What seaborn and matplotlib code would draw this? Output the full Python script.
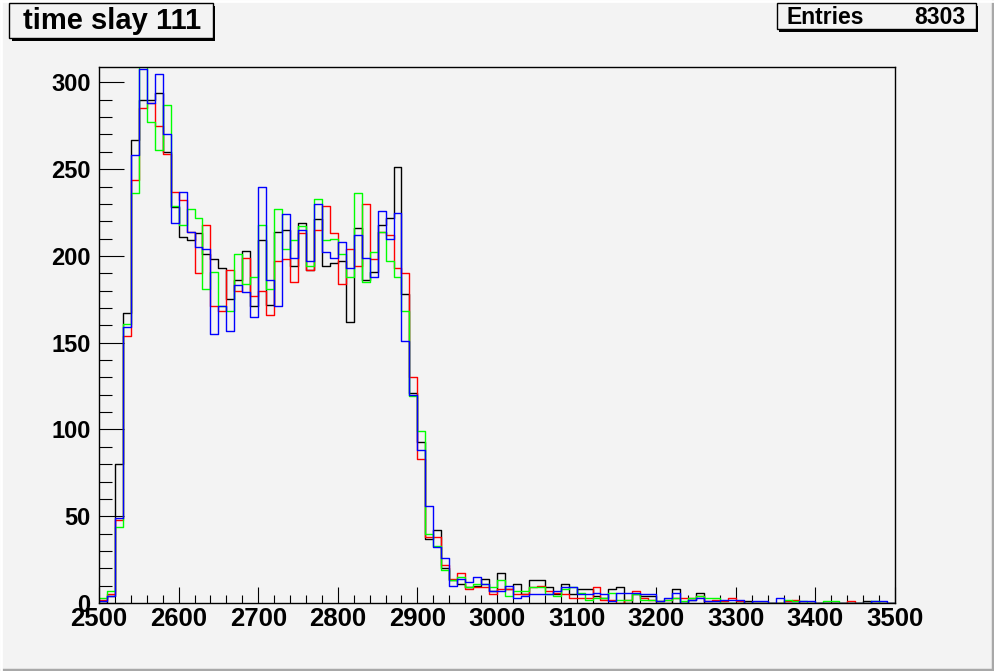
import numpy as np
import pandas as pd
import matplotlib
matplotlib.use('Agg')
import matplotlib.pyplot as plt
from matplotlib.patches import Rectangle
from matplotlib.lines import Line2D
from matplotlib.ticker import MultipleLocator
import seaborn as sns

# 100 bins of width 10 from 2500 to 3500
bin_edges = list(range(2500, 3510, 10))

black = [0, 4, 80, 167, 267, 290, 290, 294, 260, 228,
         211, 209, 213, 201, 198, 193, 175, 186, 203, 171,
         209, 172, 214, 215, 194, 219, 192, 221, 194, 196,
         197, 162, 216, 186, 191, 218, 222, 251, 178, 121,
         93, 37, 42, 20, 13, 11, 9, 10, 14, 7,
         17, 8, 11, 5, 13, 13, 9, 5, 11, 5,
         8, 8, 4, 3, 8, 9, 0, 5, 4, 4,
         0, 0, 8, 0, 2, 6, 0, 0, 0, 0,
         0, 1, 0, 0, 0, 0, 0, 0, 0, 0,
         0, 0, 0, 0, 0, 0, 1, 0, 0, 0]

red = [2, 5, 48, 154, 244, 285, 288, 275, 259, 237,
       232, 214, 190, 218, 171, 168, 192, 180, 199, 177,
       180, 166, 197, 198, 185, 213, 192, 215, 229, 213,
       184, 204, 194, 230, 198, 214, 212, 193, 190, 130,
       83, 38, 38, 22, 14, 17, 8, 9, 9, 5,
       8, 8, 5, 5, 9, 10, 7, 6, 5, 3,
       3, 3, 9, 2, 2, 0, 2, 7, 3, 2,
       1, 2, 3, 3, 3, 4, 1, 2, 1, 3,
       1, 0, 0, 0, 0, 0, 1, 2, 0, 0,
       0, 0, 0, 0, 1, 0, 0, 0, 0, 0]

green = [3, 7, 44, 161, 236, 312, 277, 261, 287, 229,
         218, 227, 222, 181, 191, 171, 168, 201, 184, 188,
         218, 181, 227, 204, 209, 217, 194, 233, 209, 210,
         201, 188, 236, 185, 202, 214, 197, 188, 168, 119,
         99, 40, 33, 19, 13, 15, 9, 11, 11, 9,
         13, 4, 7, 7, 9, 9, 5, 4, 8, 9,
         6, 2, 3, 3, 6, 2, 2, 5, 2, 2,
         1, 2, 3, 1, 3, 4, 3, 3, 0, 0,
         0, 0, 0, 0, 0, 0, 2, 1, 1, 0,
         0, 1, 1, 0, 0, 0, 0, 1, 0, 0]

blue = [1, 4, 49, 159, 258, 308, 288, 305, 270, 219,
        237, 214, 205, 204, 155, 171, 157, 183, 179, 165,
        240, 186, 171, 224, 199, 215, 197, 230, 202, 199,
        208, 193, 212, 199, 188, 226, 210, 225, 151, 120,
        88, 56, 32, 26, 10, 14, 12, 15, 11, 7,
        7, 10, 3, 4, 5, 5, 5, 7, 9, 9,
        5, 5, 6, 5, 1, 6, 6, 6, 5, 5,
        1, 3, 6, 0, 2, 3, 1, 1, 2, 2,
        2, 0, 1, 1, 0, 3, 0, 0, 1, 1,
        0, 0, 0, 0, 0, 0, 0, 1, 1, 0]

title = 'time slay 111'
entries = 8303

BG = '#f3f3f3'
W, H = 995, 671


def fx(px):
   return px / W


def fy(py):
   return 1 - py / H


def shadow_box(fig, x0, y0, x1, y1, off=2.5):
   """ROOT-style pave: black drop shadow + framed box (pixel coords)."""
   fig.patches.append(Rectangle((fx(x0 + off), fy(y1 + off)), fx(x1 - x0), (y1 - y0) / H,
                                transform=fig.transFigure, facecolor='black',
                                edgecolor='black', lw=0, zorder=1))
   fig.patches.append(Rectangle((fx(x0), fy(y1)), fx(x1 - x0), (y1 - y0) / H,
                                transform=fig.transFigure, facecolor=BG,
                                edgecolor='black', lw=1.0, zorder=2))


def main():
   sns.set_style('ticks')
   plt.rcParams['font.family'] = ['Liberation Sans', 'DejaVu Sans']
   plt.rcParams['font.weight'] = 'bold'
   plt.rcParams['text.color'] = 'black'
   plt.rcParams['xtick.color'] = 'black'
   plt.rcParams['ytick.color'] = 'black'
   plt.rcParams['xtick.labelcolor'] = 'black'
   plt.rcParams['ytick.labelcolor'] = 'black'

   fig = plt.figure(figsize=(9.95, 6.71), dpi=100, facecolor=BG)
   ax = fig.add_axes([fx(99), fy(603), fx(895 - 99), (603 - 67.3) / H])
   ax.set_facecolor(BG)

   centers = [e + 5 for e in bin_edges[:-1]]
   for vals, col in [(black, 'black'), (red, '#ff0000'), (green, '#00ff00'), (blue, '#0000ff')]:
      df = pd.DataFrame({'x': centers, 'n': vals})
      sns.histplot(data=df, x='x', weights='n', bins=bin_edges, element='step',
                   fill=False, color=col, linewidth=1.0, ax=ax)

   ax.set_xlim(2500, 3500)
   ax.set_ylim(0, max(black) * 1.05)
   ax.set_xlabel('')
   ax.set_ylabel('')

   for s in ax.spines.values():
      s.set_color('black')
      s.set_linewidth(1.0)

   ax.xaxis.set_major_locator(MultipleLocator(100))
   ax.xaxis.set_minor_locator(MultipleLocator(20))
   ax.yaxis.set_major_locator(MultipleLocator(50))
   ax.yaxis.set_minor_locator(MultipleLocator(10))
   ax.tick_params(axis='x', which='major', direction='in', length=11.5, width=0.8,
                  labelsize=18.5, pad=3, colors='black')
   ax.tick_params(axis='x', which='minor', direction='in', length=5.8, width=0.8,
                  colors='black')
   ax.tick_params(axis='y', which='major', direction='in', length=18, width=0.8,
                  labelsize=17, pad=6, colors='black')
   ax.tick_params(axis='y', which='minor', direction='in', length=9, width=0.8,
                  colors='black')
   for lab in ax.get_xticklabels() + ax.get_yticklabels():
      lab.set_fontweight('bold')

   # title pave
   shadow_box(fig, 9.3, 3.3, 213, 38.3)
   fig.text(fx(112), fy(21), title, ha='center', va='center', fontsize=21,
            fontweight='bold', color='black', zorder=5)

   # stats pave
   shadow_box(fig, 776.7, 3.3, 976, 29.3)
   fig.text(fx(787), fy(17), 'Entries', ha='left', va='center', fontsize=16.5,
            fontweight='bold', color='black', zorder=5)
   fig.text(fx(966), fy(17), str(entries), ha='right', va='center', fontsize=16.5,
            fontweight='bold', color='black', zorder=5)

   # canvas bevel
   fig.add_artist(Line2D([0, 1], [fy(669.5), fy(669.5)], transform=fig.transFigure,
                         color='#a8a8a8', lw=2.5))
   fig.add_artist(Line2D([fx(993.5), fx(993.5)], [0, 1], transform=fig.transFigure,
                         color='#a8a8a8', lw=2.5))
   fig.add_artist(Line2D([0, 1], [fy(1), fy(1)], transform=fig.transFigure,
                         color='white', lw=2))
   fig.add_artist(Line2D([fx(1), fx(1)], [0, 1], transform=fig.transFigure,
                         color='white', lw=2))

   fig.savefig('out.png', dpi=100, facecolor=BG)


if __name__ == '__main__':
   main()
